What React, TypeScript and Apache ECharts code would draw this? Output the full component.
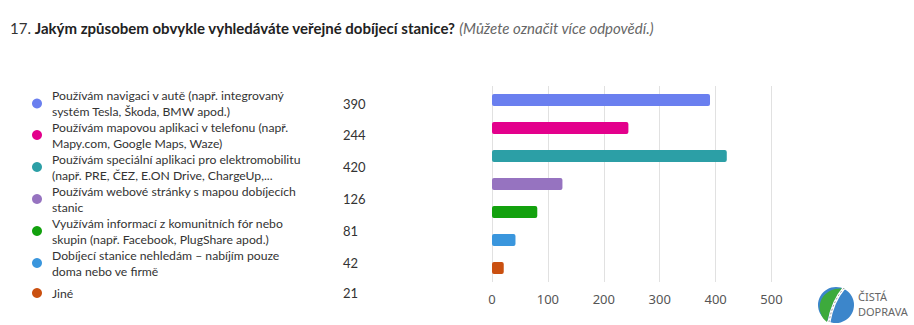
import React, { useEffect, useRef } from "react";
import * as echarts from "echarts";

const titleNumber = "17. ";
const titleBold = "Jakým způsobem obvykle vyhledáváte veřejné dobíjecí stanice?";
const titleNote = " (Můžete označit více odpovědí.)";

const categoryLines: string[][] = [
  ["Používám navigaci v autě (např. integrovaný", "systém Tesla, Škoda, BMW apod.)"],
  ["Používám mapovou aplikaci v telefonu (např.", "Mapy.com, Google Maps, Waze)"],
  ["Používám speciální aplikaci pro elektromobilitu", "(např. PRE, ČEZ, E.ON Drive, ChargeUp,..."],
  ["Používám webové stránky s mapou dobíjecích", "stanic"],
  ["Využívám informací z komunitních fór nebo", "skupin (např. Facebook, PlugShare apod.)"],
  ["Dobíjecí stanice nehledám – nabíjím pouze", "doma nebo ve firmě"],
  ["Jiné"],
];
const categories = categoryLines.map((l) => l.join(" "));
const values = [390, 244, 420, 126, 81, 42, 21];
const colors = ["#6A7FEF", "#E3008C", "#2C9FA6", "#9673C0", "#13A10E", "#3A96DD", "#CA5010"];
const xTicks = [0, 100, 200, 300, 400, 500];
const logoLines = ["ČISTÁ", "DOPRAVA"];

const FONT = "Lato, 'Noto Sans', sans-serif";
const AXFONT = "'Noto Sans', sans-serif";

export default function App() {
  const ref = useRef<HTMLDivElement>(null);
  useEffect(() => {
    if (!ref.current) return;
    const chart = echarts.init(ref.current, undefined, { renderer: "svg" });

    echarts.graphic.registerShape(
      "leaf",
      echarts.graphic.extendPath(
        "M 3 27 C -1 16 5 5 17 2 L 27 1 C 21 6 17 12 14 19 C 12 25 10 30 9 35 C 6 33 4 30 3 27 Z",
        {}
      )
    );

    const rowY = [103.5, 135, 167, 199, 231, 263, 293];
    const legendEls: any[] = [];
    categoryLines.forEach((lines, i) => {
      const cy = rowY[i];
      legendEls.push({
        type: "circle",
        shape: { cx: 37, cy, r: 5 },
        style: { fill: colors[i] },
        silent: true,
      });
      const lh = 16;
      const startY = cy - ((lines.length - 1) * lh) / 2;
      lines.forEach((t, j) => {
        legendEls.push({
          type: "text",
          x: 52,
          y: startY + j * lh,
          style: {
            text: t,
            font: `12.2px ${FONT}`,
            fill: "#333",
            verticalAlign: "middle",
          },
        });
      });
      legendEls.push({
        type: "text",
        x: 343,
        y: cy,
        style: {
          text: String(values[i]),
          font: `13px ${FONT}`,
          fill: "#333",
          verticalAlign: "middle",
        },
      });
    });

    chart.setOption({
      animation: false,
      grid: { left: 492, right: 142.5, top: 86, bottom: 43, containLabel: false },
      xAxis: {
        type: "value",
        min: 0,
        max: 500,
        interval: 100,
        axisLine: { show: false },
        axisTick: { show: false },
        splitLine: { show: true, lineStyle: { color: "#e1e1e1", width: 1 } },
        axisLabel: {
          color: "#555",
          fontSize: 13,
          fontFamily: AXFONT,
          margin: 10,
          formatter: (v: number) => (xTicks.includes(v) ? String(v) : ""),
        },
      },
      yAxis: {
        type: "category",
        data: categories,
        inverse: true,
        axisLine: { show: false },
        axisTick: { show: false },
        axisLabel: { show: false },
      },
      series: [
        {
          type: "bar",
          barWidth: 12,
          data: values.map((v, i) => ({ value: v, itemStyle: { color: colors[i] } })),
          itemStyle: { borderRadius: 2 },
        },
      ],
      graphic: [
        {
          type: "text",
          x: 10,
          y: 28,
          style: {
            text: `{n|${titleNumber}}{b|${titleBold}}{i|${titleNote}}`,
            verticalAlign: "middle",
            rich: {
              n: { font: `15px ${FONT}`, fill: "#333", color: "#333" },
              b: { font: `bold 15px ${FONT}`, fill: "#222", color: "#222" },
              i: { font: `italic 15px ${FONT}`, fill: "#666", color: "#666" },
            },
          },
        },
        ...legendEls,
        {
          type: "group",
          x: 818,
          y: 287,
          children: [
            { type: "circle", shape: { cx: 18, cy: 18, r: 18 }, style: { fill: "#3C86CB" } },
            { type: "leaf", x: 0, y: 0, style: { fill: "#3DAA3C" } },
            {
              type: "bezierCurve",
              shape: { x1: 26, y1: 1, cpx1: 20, cpy1: 8, cpx2: 14, cpy2: 18, x2: 11, y2: 35 },
              style: { stroke: "#ffffff", lineWidth: 3, fill: "none" },
            },
            {
              type: "bezierCurve",
              shape: { x1: 26, y1: 1, cpx1: 20, cpy1: 8, cpx2: 14, cpy2: 18, x2: 11, y2: 35 },
              style: { stroke: "#888", lineWidth: 0.8, lineDash: [2, 2], fill: "none" },
            },
          ],
        },
        ...logoLines.map((t, i) => ({
          type: "text",
          x: 858,
          y: 296 + i * 15,
          style: { text: t, font: `11px ${AXFONT}`, fill: "#666", verticalAlign: "middle" },
        })),
      ],
    });
    return () => chart.dispose();
  }, []);
  return (
    <div
      ref={ref}
      style={{ position: "fixed", left: 0, top: 0, width: 914, height: 325, background: "#fff" }}
    />
  );
}
